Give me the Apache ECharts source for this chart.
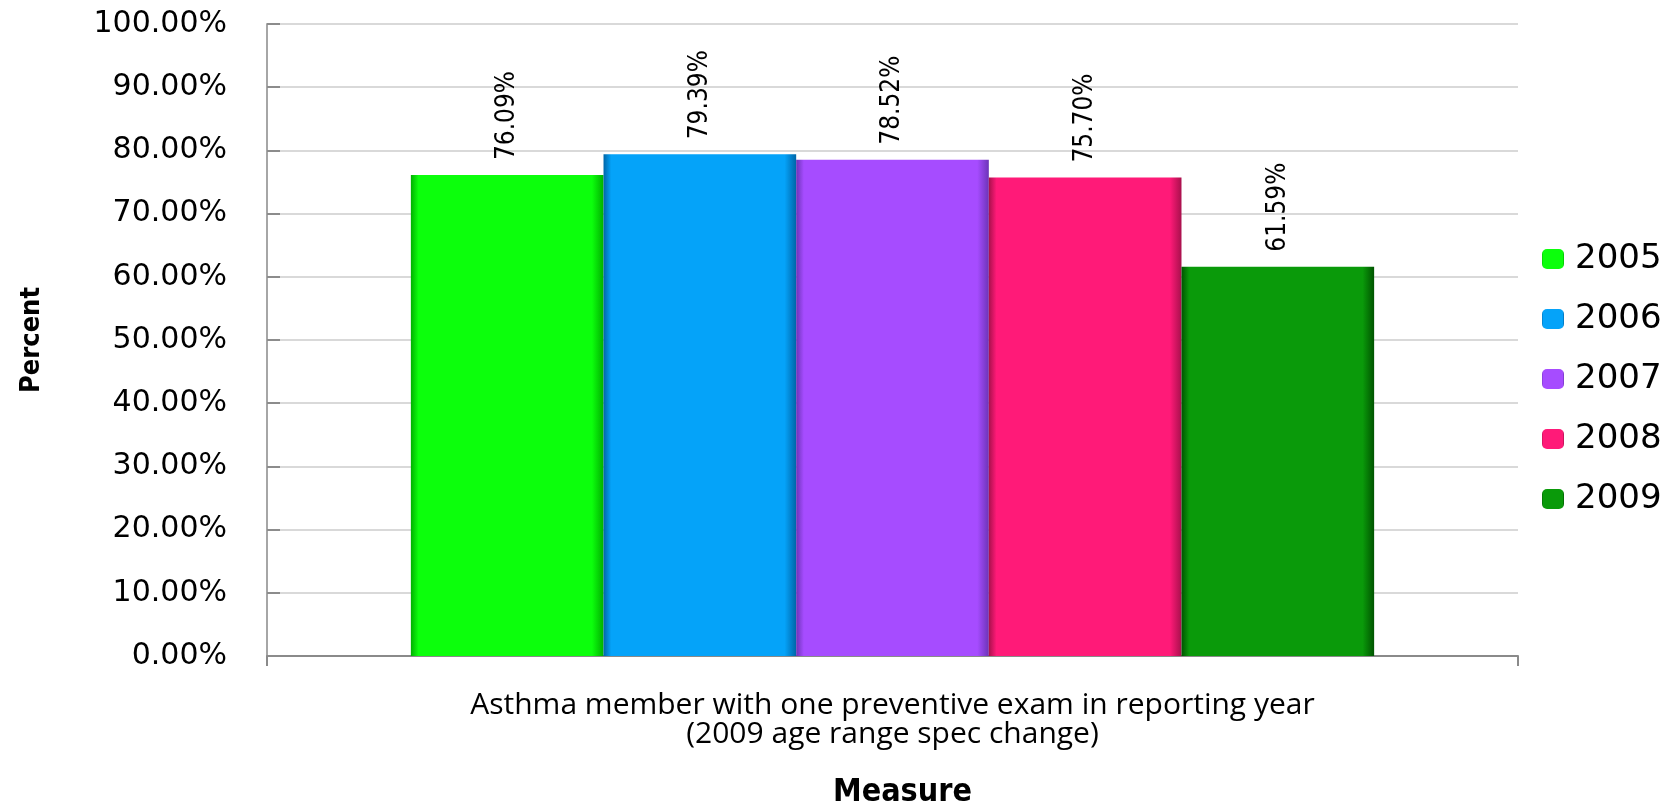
<!DOCTYPE html>
<html>
<head>
<meta charset="utf-8">
<script src="https://cdn.jsdelivr.net/npm/echarts@6/dist/echarts.min.js"></script>
<style>
html,body{margin:0;padding:0;background:#fff;}
#chart{width:1676px;height:803px;}
</style>
</head>
<body>
<div id="chart"></div>
<script>
var categories = ['Asthma member with one preventive exam in reporting year\n(2009 age range spec change)'];
var seriesNames = ['2005', '2006', '2007', '2008', '2009'];
var values2005 = [76.09];
var values2006 = [79.39];
var values2007 = [78.52];
var values2008 = [75.70];
var values2009 = [61.59];
var yTicks = { min: 0, max: 100, interval: 10 };

var seriesValues = [values2005, values2006, values2007, values2008, values2009];
var mainColors = ['#0cff0c', '#05a3f9', '#a64cff', '#ff1a78', '#0a9a0a'];
var edgeColors = ['#00b000', '#0066a8', '#6c34b8', '#a8104c', '#005400'];

function barColor(i) {
  return new echarts.graphic.LinearGradient(0, 0, 1, 0, [
    { offset: 0, color: edgeColors[i] },
    { offset: 0.04, color: mainColors[i] },
    { offset: 0.94, color: mainColors[i] },
    { offset: 1, color: edgeColors[i] }
  ]);
}

var condensed = "'Liberation Sans Narrow', 'DejaVu Sans Condensed', sans-serif";

var chart = echarts.init(document.getElementById('chart'));
var series = seriesNames.map(function (name, i) {
  return {
    name: name,
    type: 'bar',
    data: seriesValues[i],
    barGap: '0%',
    barCategoryGap: '23%',
    itemStyle: { color: barColor(i) },
    label: {
      show: true,
      position: 'top',
      rotate: 90,
      align: 'left',
      verticalAlign: 'middle',
      distance: 15,
      fontFamily: condensed,
      fontSize: 26,
      color: '#000',
      formatter: function (p) { return p.value.toFixed(2) + '%'; }
    }
  };
});

chart.setOption({
  backgroundColor: '#fff',
  animation: false,
  color: mainColors,
  grid: { left: 267, right: 158, top: 24, bottom: 147, outerBoundsMode: 'none', containLabel: false },
  legend: {
    orient: 'vertical',
    left: 1542,
    top: 242,
    padding: 0,
    itemWidth: 22,
    itemHeight: 20,
    itemGap: 26,
    data: seriesNames,
    textStyle: { fontFamily: 'DejaVu Sans', fontSize: 34, color: '#000', padding: [0, 0, 0, 6] }
  },
  xAxis: {
    type: 'category',
    data: categories,
    name: 'Measure',
    nameLocation: 'middle',
    nameGap: 121,
    nameTextStyle: { fontFamily: condensed, fontWeight: 'bold', fontSize: 32, color: '#000', verticalAlign: 'top', padding: [0, 0, 0, 20] },
    axisLine: { show: true, lineStyle: { color: '#8a8a8a', width: 2 } },
    axisTick: { show: true, length: 10, lineStyle: { color: '#8a8a8a', width: 2 } },
    axisLabel: {
      margin: 35,
      lineHeight: 29,
      fontFamily: 'Open Sans',
      fontSize: 30,
      color: '#000'
    }
  },
  yAxis: {
    type: 'value',
    min: yTicks.min,
    max: yTicks.max,
    interval: yTicks.interval,
    name: 'Percent',
    nameLocation: 'middle',
    nameGap: 222,
    nameRotate: 90,
    nameTextStyle: { fontFamily: condensed, fontWeight: 'bold', fontSize: 27, color: '#000' },
    axisLine: { show: true, lineStyle: { color: '#a6a6a6', width: 2 } },
    axisTick: { show: true, inside: true, length: 13, lineStyle: { color: '#8c8c8c', width: 2 } },
    splitLine: { show: true, lineStyle: { color: '#d9d9d9', width: 2 } },
    axisLabel: {
      margin: 40,
      fontFamily: 'DejaVu Sans',
      fontSize: 30,
      color: '#000',
      formatter: function (v) { return v.toFixed(2) + '%'; }
    }
  },
  series: series
});
</script>
</body>
</html>
